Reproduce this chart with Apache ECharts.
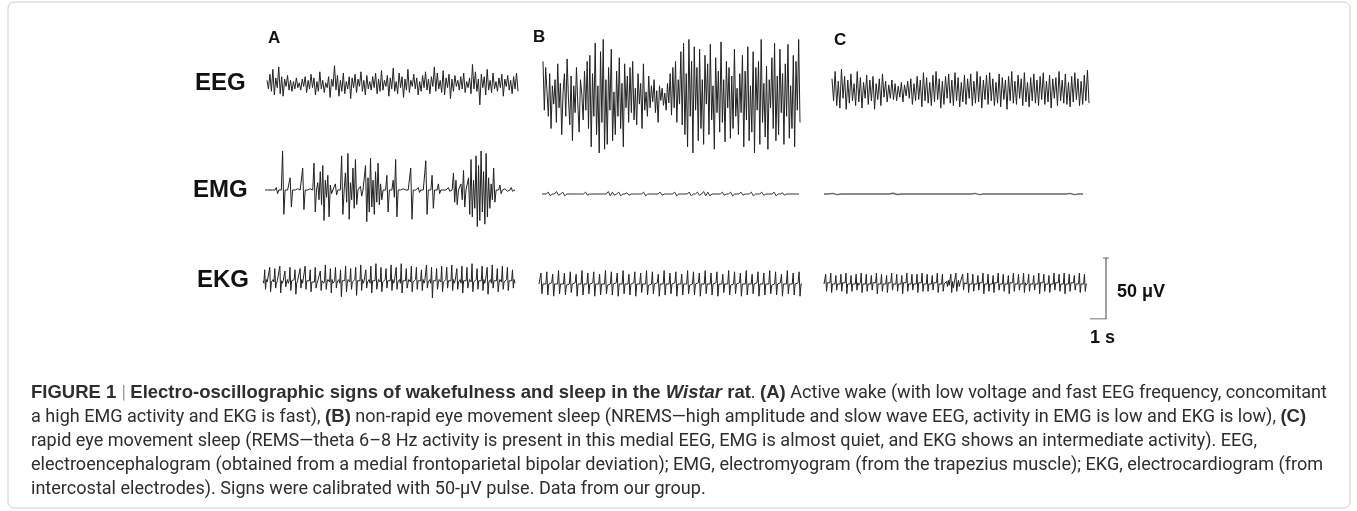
<!DOCTYPE html>
<html>
<head>
<meta charset="utf-8">
<script src="https://cdn.jsdelivr.net/npm/echarts/dist/echarts.min.js"></script>
<style>
  html, body { margin: 0; padding: 0; background: #fff; }
  #main { width: 1357px; height: 511px; }
</style>
</head>
<body>
<div id="main"></div>
<script>
// traces in µV, one sample per step
const eegA = [3,-4,8,-6,12,-9,5,-3,14,-8,6,-10,4,-2,7,-5,3,-6,2,-4,5,-3,1,-5,4,-2,6,-7,3,-4,8,-3,5,-9,2,-6,10,-4,3,-7,1,-3,6,-11,4,-2,15,-5,7,-10,3,-6,9,-8,2,-4,6,-12,5,-3,8,-7,4,-2,10,-6,3,-9,7,-4,2,-5,6,-3,9,-8,4,-6,11,-5,3,-2,7,-10,5,-4,13,-6,2,-8,9,-3,6,-11,4,-5,12,-7,3,-2,8,-4,5,-9,2,-6,7,-3,10,-5,4,-8,6,-2,14,-6,9,-4,3,-7,11,-9,5,-3,8,-12,4,-6,7,-2,3,-5,6,-4,9,-7,2,-3,5,-8,16,-4,10,-6,4,-17,8,-3,6,-9,12,-5,3,-7,9,-4,2,-6,5,-3,8,-10,4,-2,7,-5,3,-8,6,-4,9,-6];
const eegB = [30,-10,25,5,-15,20,-25,10,-5,15,-20,28,-8,12,-30,5,20,-15,32,0,-22,18,-35,10,-12,25,-5,-28,15,3,-18,22,-10,30,-25,
  35,-40,20,-15,45,-30,10,-45,38,-20,48,-42,15,-38,25,-10,40,-35,5,-30,22,-15,33,-25,12,-40,28,-8,18,-20,
  25,-12,30,-18,8,-22,20,-5,12,-25,28,-10,5,-15,18,-8,10,-3,15,-12,6,-20,10,-2,8,-6,4,-10,12,-4,20,-14,25,-8,30,-20,15,-5,
  38,-22,45,-30,20,-40,48,-15,30,-45,42,-10,25,-35,40,-25,15,-38,35,-5,28,-30,44,-18,10,-42,33,-12,22,-28,46,-20,15,-36,30,-8,25,-33,18,-25,40,-15,8,-30,20,
  -12,35,-40,22,-18,42,-35,10,-28,38,-45,25,-10,30,-38,48,-20,12,-32,26,-42,15,-8,33,-25,45,-35,18,-30,40,-12,20,-38,28,-15,44,-33,10,-25,35,-40,30,-10,48,-20];
const eegC = [10,-8,16,-12,8,-14,18,-6,12,-15,9,-10,14,-8,6,-12,16,-9,11,-14,7,-6,13,-11,9,-8,12,-15,6,-7,10,-12,14,-5,8,-9,5,-6,9,-7,6,-8,4,-5,7,-9,5,-4,8,-6,10,-11,6,-8,12,-7,9,-13,15,-8,11,-10,7,-12,13,-9,16,-7,10,-14,8,-11,12,-6,14,-10,9,-12,15,-8,11,-13,7,-9,13,-11,10,-6,14,-12,8,-10,16,-9,12,-14,9,-7,13,-11,15,-8,10,-12,7,-10,14,-13,11,-7,9,-15,12,-8,16,-10,8,-11,13,-6,10,-12,15,-9,7,-13,11,-8,14,-10,9,-12,12,-7,15,-11,8,-9,13,-14,10,-6,11,-12,16,-8,9,-10,14,-11,7,-13,12,-9,15,-7,10,-12,8,-11,13,-8,17,-10];
const emgA = [0,0,0,1,0,-1,0,0,0,2,-3,0,0,0,32,-20,0,1,0,0,10,-14,0,0,0,0,1,0,0,0,18,-16,0,0,0,0,1,0,0,22,-18,0,6,-8,15,-12,20,-25,8,-6,12,-22,4,-3,0,0,5,-4,0,0,0,28,-20,0,14,-10,30,-24,6,-8,18,-15,25,-12,0,0,3,-5,0,0,20,-26,10,-18,26,-14,8,-20,15,-10,22,-12,5,-8,0,0,0,12,-18,0,0,0,8,-6,25,-22,0,0,0,0,1,0,0,0,0,0,18,-24,0,0,0,0,2,-2,0,0,0,0,24,-20,0,0,0,12,-15,0,0,0,5,-3,0,0,0,0,0,0,2,-1,0,0,14,-10,8,-12,0,0,5,-8,16,-14,0,0,10,-20,25,-22,8,-15,28,-30,20,-25,32,-18,15,-28,30,-22,10,-15,5,-8,18,-10,0,0,0,4,-3,0,0,1,0,-1,0,0,2,-1,0,0];
const emgB = [0,0,0,1.5,-1.5,0,0,2,-1,0,1.5,-1.5,0,0,0,0,0,0,0,0,0,1.5,-1,0,0,0,0,0,0,0,0,0,2,-1.5,1.5,-1,0,1.5,-1.5,0,0,1,-1,0,0,0,0,0,0,1.5,-1.5,0,0,0,0,0,0,1.5,-1,0,0,0,0,0,1.5,-1.5,0,0,0,0,0,1.5,-1.5,0,0,1.5,-1,0,2,-1.5,1.5,-1.5,0,0,0,0,0,1.5,-1,0,0,1.5,-1.5,0,0,0,1.5,-1,0,0,0,1.5,-1.5,0,0,0,1.5,-1,0,0,0,0,1.5,-1.5,0,0,1,-1,0,0,0,0,0,0,0];
const emgC = [0,0,0.5,-0.5,0,0,0,0,0,0,0,0,0,0,0,0,0.6,-0.4,0,0,0,0,0,0,0,0,0,0,0,0,0,0,0,0,0,0.5,-0.5,0,0,0,0,0,0,0,0,0,0,0,0,0,0,0,0,0,0,0,0,0.5,-0.5,0,0];
const ekgA = [1,-1,10,-6,2,0, -1,1,12,-8,0,1, 2,0,11,-5,-1,1, 0,1,13,-9,1,-1, 1,0,9,-4,0,2, -1,1,12,-7,1,0, 0,2,10,-10,-1,1, 1,0,11,-5,2,-1, 0,-1,13,-6,1,0, 2,1,10,-8,0,-1,
  1,0,12,-5,-1,1, 0,2,9,-7,1,0, -1,1,14,-6,0,2, 1,0,11,-9,2,-1, 0,1,12,-5,0,1, 2,-1,10,-12,1,0, 0,1,13,-8,-1,2, 1,0,11,-6,0,1, -1,2,12,-11,1,0, 0,1,14,-7,2,-1,
  1,0,10,-5,0,1, 2,-1,13,-9,1,0, 0,1,15,-6,-1,2, 1,0,12,-8,0,1, -1,2,11,-5,1,0, 0,1,14,-7,2,-1, 1,0,12,-6,0,1, 2,-1,15,-9,1,0, 0,1,11,-5,-1,2, 1,0,13,-8,0,1,
  -1,2,12,-6,1,0, 0,1,10,-7,2,-1, 1,0,14,-5,0,1, 2,-1,12,-13,1,0, 0,1,11,-6,-1,2, 1,0,13,-8,0,1, -1,2,12,-5,1,0, 0,1,14,-7,2,-1, 1,0,11,-6,0,1, 2,-1,13,-9,1,0,
  0,1,12,-5,-1,2, 1,0,15,-8,0,1, -1,2,11,-6,1,0, 0,1,13,-7,2,-1, 1,0,12,-10,0,1, 2,-1,14,-5,1,0, 0,1,11,-8,-1,2, 1,0,13,-6,0,1, -1,2,12,-7,1,0, 0,1,10,-5,2,-1];
const ekgB = [0,0,9,-8,0,0, 0,0,10,-9,0,0, 0,1,8,-10,0,0, 0,0,11,-8,0,0, 0,0,9,-9,-1,0, 0,0,10,-7,0,0, 0,1,8,-10,0,0, 0,0,11,-9,0,0, 0,0,9,-8,0,0,
  0,1,10,-10,0,0, 0,0,8,-9,0,0, 0,0,11,-8,-1,0, 0,0,10,-9,0,0, 0,1,9,-10,0,0, 0,0,11,-8,0,0, 0,0,8,-9,0,0, 0,1,10,-10,0,0, 0,0,9,-7,0,0,
  0,0,11,-9,-1,0, 0,0,10,-8,0,0, 0,1,8,-10,0,0, 0,0,11,-9,0,0, 0,0,9,-8,0,0, 0,1,10,-10,0,0, 0,0,8,-9,0,0, 0,0,11,-8,-1,0, 0,0,10,-9,0,0,
  0,1,9,-10,0,0, 0,0,11,-8,0,0, 0,0,9,-9,0,0, 0,1,10,-10,0,0, 0,0,8,-7,0,0, 0,0,11,-9,-1,0, 0,0,10,-8,0,0, 0,1,9,-10,0,0, 0,0,11,-9,0,0,
  0,0,8,-8,0,0, 0,1,10,-10,0,0, 0,0,9,-9,0,0, 0,0,11,-8,-1,0, 0,0,10,-9,0,0, 0,1,8,-10,0,0, 0,0,11,-8,0,0, 0,0,9,-9,0,0, 0,1,10,-10,0,0];
const ekgC = [0,0,8,-6,1,0, 0,1,9,-7,0,0, 1,0,7,-5,0,-1, 0,0,8,-6,1,0, 0,1,9,-8,0,0, 1,0,7,-6,0,0, 0,0,8,-5,1,-1, 0,1,9,-7,0,0, 1,0,8,-6,0,0, 0,0,7,-5,1,0,
  0,1,9,-8,0,0, 1,0,8,-6,0,-1, 0,0,7,-7,1,0, 0,1,9,-5,0,0, 1,0,8,-6,0,0, 0,0,7,-8,1,0, 0,1,9,-6,0,0, 1,0,8,-5,0,-1, 0,0,8,-7,1,0, 0,1,9,-6,0,0,
  1,0,8,-6,0,0, 0,0,7,-5,1,0, 0,1,9,-7,0,-1, 1,0,8,-6,0,0, 0,2,-2,3,-1,0, 8,-7,2,-3,1,0, 9,-6,0,3,-2,1, 0,1,8,-5,1,0, 0,0,9,-7,0,0, 1,0,8,-6,0,-1,
  0,0,7,-5,1,0, 0,1,9,-8,0,0, 1,0,8,-6,0,0, 0,0,7,-7,1,0, 0,1,9,-5,0,-1, 1,0,8,-6,0,0, 0,0,7,-8,1,0, 0,1,9,-6,0,0, 1,0,8,-5,0,0, 0,0,9,-7,1,-1,
  0,1,8,-6,0,0, 1,0,7,-5,0,0, 0,0,9,-8,1,0, 0,1,8,-6,0,0, 1,0,7,-7,0,-1, 0,0,9,-5,1,0, 0,1,8,-6,0,0, 1,0,9,-8,0,0, 0,0,8,-6,1,0, 0,1,7,-5,0,0,
  1,0,9,-7,0,0, 0,0,8,-6,0,0];

// calibration pulse
const scaleTime = 1;   // s
const scaleVolt = 50;  // µV

const panelLetters = ['A', 'B', 'C'];
const rowLabels = ['EEG', 'EMG', 'EKG'];

const captionLines = [
  [['b', 'FIGURE 1 '], ['bar', '| '], ['b', 'Electro-oscillographic signs of wakefulness and sleep in the '], ['bi', 'Wistar'], ['b', ' rat'], ['n', '. '], ['b', '(A)'], ['n', ' Active wake (with low voltage and fast EEG frequency, concomitant']],
  [['n', 'a high EMG activity and EKG is fast), '], ['b', '(B)'], ['n', ' non-rapid eye movement sleep (NREMS\u2014high amplitude and slow wave EEG, activity in EMG is low and EKG is low), '], ['b', '(C)']],
  [['n', 'rapid eye movement sleep (REMS\u2014theta 6\u20138 Hz activity is present in this medial EEG, EMG is almost quiet, and EKG shows an intermediate activity). EEG,']],
  [['n', 'electroencephalogram (obtained from a medial frontoparietal bipolar deviation); EMG, electromyogram (from the trapezius muscle); EKG, electrocardiogram (from']],
  [['n', 'intercostal electrodes). Signs were calibrated with 50-\u03bcV pulse. Data from our group.']]
];

// ---- layout ----
const pxPerUV = 61 / 50;
const gridH = 140;
const traces = [
  { data: eegA, x0: 267, x1: 518, cy: 84 },
  { data: eegB, x0: 543, x1: 800, cy: 98 },
  { data: eegC, x0: 832, x1: 1089, cy: 91 },
  { data: emgA, x0: 265, x1: 515, cy: 190 },
  { data: emgB, x0: 542, x1: 799, cy: 194, color: '#333' },
  { data: emgC, x0: 824, x1: 1083, cy: 194, color: '#666', width: 1.4 },
  { data: ekgA, x0: 263, x1: 515, cy: 282 },
  { data: ekgB, x0: 539, x1: 802, cy: 284 },
  { data: ekgC, x0: 824, x1: 1087, cy: 284 }
];

const grid = [], xAxis = [], yAxis = [], series = [];
traces.forEach((t, i) => {
  grid.push({ left: t.x0, top: t.cy - gridH / 2, width: t.x1 - t.x0, height: gridH });
  xAxis.push({ type: 'value', gridIndex: i, min: 0, max: t.data.length - 1, show: false });
  yAxis.push({ type: 'value', gridIndex: i, min: -gridH / 2 / pxPerUV, max: gridH / 2 / pxPerUV, show: false });
  series.push({
    type: 'line', xAxisIndex: i, yAxisIndex: i,
    data: t.data.map((v, j) => [j, v]),
    symbol: 'none', lineStyle: { width: t.width || 1, color: t.color || '#222' },
    silent: true, animation: false
  });
});

// scale bar grid
const sb = traces.length;
grid.push({ left: 1090, top: 258, width: 16, height: 61 });
xAxis.push({ type: 'value', gridIndex: sb, min: 0, max: scaleTime, show: false });
yAxis.push({ type: 'value', gridIndex: sb, min: 0, max: scaleVolt, show: false });
series.push({
  type: 'line', xAxisIndex: sb, yAxisIndex: sb,
  data: [[0, 0], [scaleTime, 0], [scaleTime, scaleVolt]],
  symbol: 'none', lineStyle: { width: 1, color: '#444' }, animation: false
});
series.push({
  type: 'scatter', xAxisIndex: sb, yAxisIndex: sb,
  data: [[scaleTime, scaleVolt]], symbol: 'rect', symbolSize: [6, 1],
  itemStyle: { color: '#444' }, animation: false
});

// ---- text ----
const labelFont = "'Liberation Sans', Arial, sans-serif";
const capFont = "Roboto, 'Liberation Sans', sans-serif";
const graphic = [];

graphic.push({
  type: 'rect', shape: { x: 8, y: 2, width: 1342, height: 506, r: 6 },
  style: { fill: 'none', stroke: '#cfcfcf', lineWidth: 1 }, silent: true
});

const letterX = [268, 533, 834];
const letterY = [38, 37, 40];
panelLetters.forEach((l, i) => graphic.push({
  type: 'text', x: letterX[i], y: letterY[i],
  style: { text: l, fontSize: 17, fontWeight: 'bold', fontFamily: labelFont, fill: '#111', verticalAlign: 'middle' }
}));
const rowX = [195, 193, 197];
const rowY = [83, 190, 280];
rowLabels.forEach((l, i) => graphic.push({
  type: 'text', x: rowX[i], y: rowY[i],
  style: { text: l, fontSize: 24, fontWeight: 'bold', fontFamily: labelFont, fill: '#111', verticalAlign: 'middle' }
}));
graphic.push({
  type: 'text', x: 1117, y: 292,
  style: { text: scaleVolt + ' \u03bcV', fontSize: 18, fontWeight: 'bold', fontFamily: labelFont, fill: '#111', verticalAlign: 'middle' }
});
graphic.push({
  type: 'text', x: 1090, y: 338,
  style: { text: scaleTime + ' s', fontSize: 18, fontWeight: 'bold', fontFamily: labelFont, fill: '#111', verticalAlign: 'middle' }
});

// caption: regular text fitted on lines 3-5, bold runs fitted on line 1
const ctx = document.createElement('canvas').getContext('2d');
function segStyle(kind) {
  const bold = kind === 'b' || kind === 'bi';
  return {
    bold: bold,
    fontWeight: bold ? 'bold' : 'normal',
    fontStyle: kind === 'bi' ? 'italic' : 'normal',
    fontFamily: bold ? labelFont : capFont,
    fill: kind === 'bar' ? '#999' : '#2e2e2e'
  };
}
function segWidth(kind, text, size) {
  const s = segStyle(kind);
  ctx.font = s.fontStyle + ' ' + s.fontWeight + ' ' + size + 'px ' + s.fontFamily;
  return ctx.measureText(text).width;
}
const capLeft = 31;
const base = 15;
const wNorm = [2, 3, 4].reduce((a, li) => a + captionLines[li].reduce((b, [k, t]) => b + segWidth(k, t, base), 0), 0);
const capSize = base * (1240 + 1279 + 676) / wNorm;
let n1 = 0, b1 = 0;
captionLines[0].forEach(([k, t]) => {
  if (segStyle(k).bold) b1 += segWidth(k, t, capSize); else n1 += segWidth(k, t, capSize);
});
const boldScale = (1327 - capLeft - n1) / b1;

captionLines.forEach((line, li) => {
  let x = capLeft;
  const y = 393 + li * 24.2;
  line.forEach(([k, t]) => {
    const s = segStyle(k);
    const sx = s.bold ? boldScale : 1;
    graphic.push({
      type: 'text', x: x, y: y, scaleX: sx,
      style: { text: t, fontSize: capSize, fontWeight: s.fontWeight, fontStyle: s.fontStyle, fontFamily: s.fontFamily, fill: s.fill, verticalAlign: 'middle' }
    });
    x += segWidth(k, t, capSize) * sx;
  });
});

const chart = echarts.init(document.getElementById('main'), null, { renderer: 'canvas' });
chart.setOption({
  backgroundColor: '#fff',
  animation: false,
  grid, xAxis, yAxis, series, graphic
});
</script>
</body>
</html>
